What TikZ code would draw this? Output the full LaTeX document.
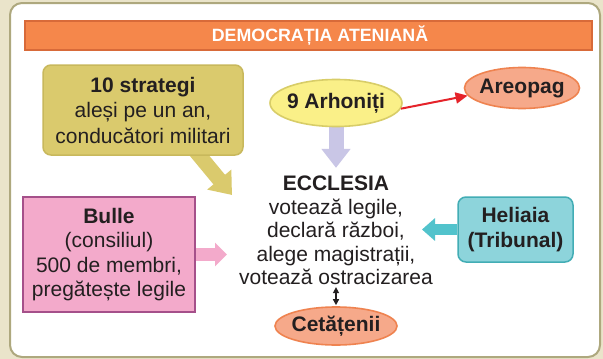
\documentclass[tikz,border=0pt]{standalone}
\usepackage{fontspec}
\setmainfont{Liberation Sans}
\usetikzlibrary{arrows.meta,shapes.geometric,calc}
\pgfdeclarelayer{back}
\pgfdeclarelayer{arr}
\pgfsetlayers{back,arr,main}
\definecolor{bgbeige}{HTML}{EAE4CA}
\definecolor{frameline}{HTML}{AEA87E}
\definecolor{titlefill}{HTML}{F5874B}
\definecolor{titleline}{HTML}{D86A39}
\definecolor{strfill}{HTML}{DACA6D}
\definecolor{strline}{HTML}{C8B85C}
\definecolor{arhfill}{HTML}{FAF088}
\definecolor{arhline}{HTML}{D8CD68}
\definecolor{salfill}{HTML}{F6A98A}
\definecolor{salline}{HTML}{EF8350}
\definecolor{redarr}{HTML}{E5232A}
\definecolor{lavarr}{HTML}{C9C6E6}
\definecolor{pinkfill}{HTML}{F3AACB}
\definecolor{pinkline}{HTML}{A5508A}
\definecolor{tealfill}{HTML}{8DD4DB}
\definecolor{tealline}{HTML}{42ADB5}
\definecolor{tealarr}{HTML}{52C3CC}
\definecolor{textc}{HTML}{231F20}
\begin{document}
\begin{tikzpicture}[x=1pt,y=-1pt,
 tx/.style={text=textc,font=\fontsize{21}{24.5}\selectfont,align=center},
 rbox/.style={tx,draw,line width=1.5pt,rounded corners=8pt,inner sep=0pt},
 oval/.style={tx,ellipse,draw,line width=1.6pt,inner sep=0pt}]
\useasboundingbox (0,0) rectangle (603,359);
\begin{pgfonlayer}{back}
\fill[bgbeige] (0,0) rectangle (603,359);
\draw[frameline,fill=white,line width=2pt,rounded corners=12pt] (10,3) rectangle (600,357);
\end{pgfonlayer}
\node[draw=titleline,fill=titlefill,line width=1.5pt,minimum width=567pt,minimum height=29pt,inner sep=0pt,text=white,font=\bfseries\fontsize{17.8}{20}\selectfont] (title) at (308.5,35.5) {\hspace*{23pt}DEMOCRAȚIA ATENIANĂ};
\node[rbox,fill=strfill,draw=strline,minimum width=200pt,minimum height=90pt,font=\fontsize{21}{25.5}\selectfont] (str) at (143,110) {\textbf{10 strategi}\\aleși pe un an,\\conducători militari};
\node[oval,fill=arhfill,draw=arhline,minimum width=132pt,minimum height=47pt] (arh) at (336,103) {\makebox[0pt]{\textbf{9 Arhoniți}}};
\node[oval,fill=salfill,draw=salline,minimum width=115pt,minimum height=41pt] (areo) at (522,88) {\makebox[0pt]{\textbf{Areopag}}};
\node[tx,inner xsep=0pt,inner ysep=8pt,font=\fontsize{21}{23.5}\selectfont] (ecc) at (336,230.5) {\textbf{ECCLESIA}\\votează legile,\\declară război,\\alege magistrații,\\votează ostracizarea};
\node[tx,draw=pinkline,fill=pinkfill,line width=1.5pt,minimum width=172pt,minimum height=115pt,inner sep=0pt] (bulle) at (109,254.5) {\textbf{Bulle}\\(consiliul)\\500 de membri,\\pregătește legile};
\node[rbox,fill=tealfill,draw=tealline,minimum width=115pt,minimum height=65pt] (hel) at (515.5,229.5) {\textbf{Heliaia}\\\textbf{(Tribunal)}};
\node[oval,fill=salfill,draw=salline,minimum width=122pt,minimum height=38pt] (cet) at (336,326) {\makebox[0pt]{\textbf{Cetățenii}}};
\coordinate (oltip) at (232,195);
\coordinate (ptip) at (227,254.5);
\coordinate (htip) at (422,229.5);
\begin{pgfonlayer}{arr}
\draw[strfill,line width=15pt,-{Triangle[length=20pt,width=30pt]}] ($(oltip)!1.5!(str.-39)$) -- (oltip);
\draw[lavarr,line width=15pt,-{Triangle[length=19pt,width=28pt]}] (arh) -- (ecc.north);
\draw[pinkfill,line width=13pt,-{Triangle[length=12pt,width=23pt]}] (bulle) -- (ptip);
\draw[tealarr,line width=11pt,-{Triangle[length=13pt,width=22pt]}] (hel) -- (htip);
\end{pgfonlayer}
\draw[redarr,line width=2pt,-{Triangle[length=12pt,width=11pt]}] (arh.-5) -- (areo.188);
\draw[textc,line width=1.4pt,shorten <=-6pt,shorten >=1pt,{Triangle[length=6pt,width=6pt]}-{Triangle[length=6pt,width=6pt]}] (ecc.south) -- (cet.north);
\end{tikzpicture}
\end{document}
